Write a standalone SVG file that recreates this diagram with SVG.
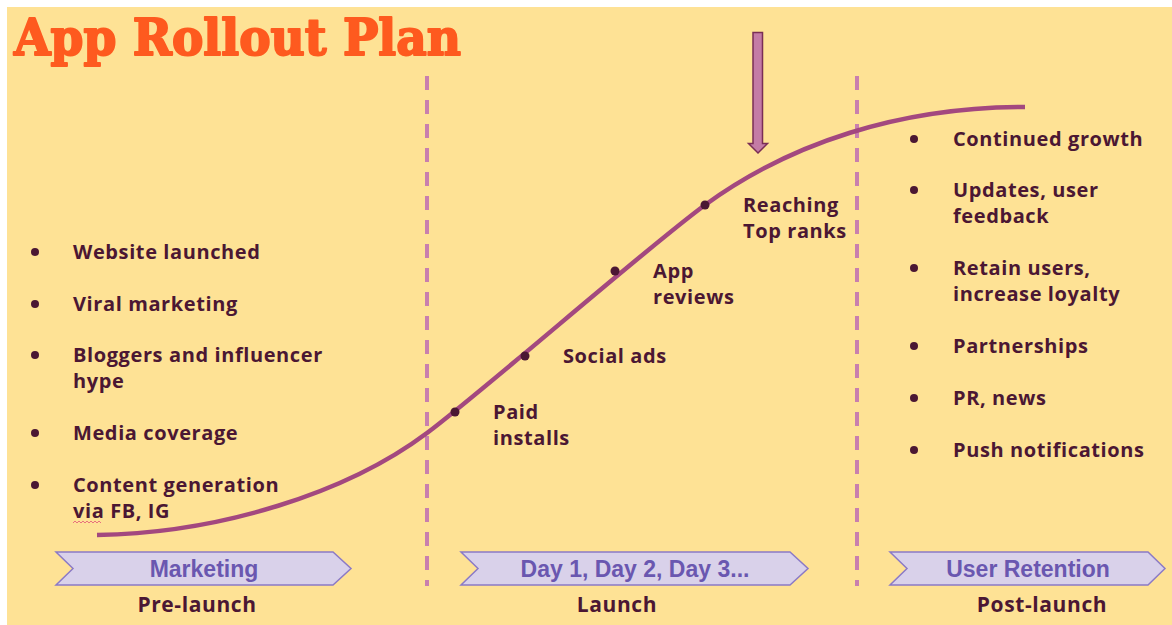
<svg xmlns="http://www.w3.org/2000/svg" width="1172" height="625" viewBox="0 0 1172 625">
  <style>
    .body { font-family: "Open Sans", "Liberation Sans", sans-serif; font-weight: 700; font-size: 20px; letter-spacing: 0.6px; fill: #4B1733; }
    .phase { font-family: "Open Sans", "Liberation Sans", sans-serif; font-weight: 700; font-size: 21px; letter-spacing: 0.6px; fill: #4B1733; text-anchor: middle; }
    .tag { fill: #D9D1EA; stroke: #8B7AC6; stroke-width: 1.5; }
    .tagtext { font-family: "Liberation Sans", Arial, sans-serif; font-weight: 700; font-size: 23px; fill: #6A57B0; text-anchor: middle; }
    .bullet { fill: #4B1733; }
    .divider { stroke: #C97FAE; stroke-width: 4; stroke-dasharray: 14 10; fill: none; }
  </style>

  <!-- page -->
  <rect x="0" y="0" width="1172" height="625" fill="#FFFFFF"/>
  <rect x="7" y="7" width="1165" height="618" fill="#FEE295"/>

  <!-- title -->
  <g id="title">
    <text x="14" y="55" font-family="'DejaVu Serif', 'Liberation Serif', serif" font-weight="900" font-size="50" fill="#FE5A1F" stroke="#FE5A1F" stroke-width="2" stroke-linejoin="round" textLength="447" lengthAdjust="spacingAndGlyphs">App Rollout Plan</text>
  </g>

  <!-- phase dividers -->
  <g id="dividers">
    <line class="divider" x1="427" y1="76" x2="427" y2="586"/>
    <line class="divider" x1="857" y1="76" x2="857" y2="586"/>
  </g>

  <!-- growth curve and pointer arrow -->
  <g id="connectors">
    <path d="M97,535 C220,533 347,493 427,433 C487,388 645,249 705,205 C790,143 900,107 1025,107" fill="none" stroke="#A3487F" stroke-width="4.5" stroke-linecap="butt"/>
    <path d="M753,32.5 H762.5 V143.5 H767.5 L758,153 L748.5,143.5 H753 Z" fill="#C47BA6" stroke="#7A2E55" stroke-width="1.5" stroke-linejoin="miter"/>
  </g>

  <!-- pre-launch items -->
  <g id="prelaunch-items">
    <circle class="bullet" cx="35" cy="252" r="4"/>
    <text class="body" x="73" y="259">Website launched</text>
    <circle class="bullet" cx="35" cy="304" r="4"/>
    <text class="body" x="73" y="311">Viral marketing</text>
    <circle class="bullet" cx="35" cy="355" r="4"/>
    <text class="body" x="73" y="362">Bloggers and influencer</text>
    <text class="body" x="73" y="388">hype</text>
    <circle class="bullet" cx="35" cy="433" r="4"/>
    <text class="body" x="73" y="440">Media coverage</text>
    <circle class="bullet" cx="35" cy="485" r="4"/>
    <text class="body" x="73" y="492">Content generation</text>
    <text class="body" x="73" y="518">via FB, IG</text>
    <path d="M73,523 l2,-2 l2,2 l2,-2 l2,2 l2,-2 l2,2 l2,-2 l2,2 l2,-2 l2,2 l2,-2 l2,2 l2,-2 l2,2" fill="none" stroke="#E8707E" stroke-width="1"/>
  </g>

  <!-- launch milestones on the curve -->
  <g id="launch-milestones">
    <circle class="bullet" cx="455" cy="412" r="4.5"/>
    <text class="body" x="493" y="419">Paid</text>
    <text class="body" x="493" y="445">installs</text>
    <circle class="bullet" cx="525" cy="356" r="4.5"/>
    <text class="body" x="563" y="363">Social ads</text>
    <circle class="bullet" cx="615" cy="271" r="4.5"/>
    <text class="body" x="653" y="278">App</text>
    <text class="body" x="653" y="304">reviews</text>
    <circle class="bullet" cx="705" cy="205" r="4.5"/>
    <text class="body" x="743" y="212">Reaching</text>
    <text class="body" x="743" y="238">Top ranks</text>
  </g>

  <!-- post-launch items -->
  <g id="postlaunch-items">
    <circle class="bullet" cx="914" cy="139" r="4"/>
    <text class="body" x="953" y="146">Continued growth</text>
    <circle class="bullet" cx="914" cy="190" r="4"/>
    <text class="body" x="953" y="197">Updates, user</text>
    <text class="body" x="953" y="223">feedback</text>
    <circle class="bullet" cx="914" cy="268" r="4"/>
    <text class="body" x="953" y="275">Retain users,</text>
    <text class="body" x="953" y="301">increase loyalty</text>
    <circle class="bullet" cx="914" cy="346" r="4"/>
    <text class="body" x="953" y="353">Partnerships</text>
    <circle class="bullet" cx="914" cy="398" r="4"/>
    <text class="body" x="953" y="405">PR, news</text>
    <circle class="bullet" cx="914" cy="450" r="4"/>
    <text class="body" x="953" y="457">Push notifications</text>
  </g>

  <!-- phase tags -->
  <g id="tag-marketing">
    <polygon class="tag" points="56,552 333,552 351,568.5 333,585 56,585 73,568.5"/>
    <text class="tagtext" x="204" y="577">Marketing</text>
  </g>
  <g id="tag-days">
    <polygon class="tag" points="461,552 790,552 808,568.5 790,585 461,585 478,568.5"/>
    <text class="tagtext" x="635" y="577">Day 1, Day 2, Day 3...</text>
  </g>
  <g id="tag-retention">
    <polygon class="tag" points="890,552 1148,552 1165,568.5 1148,585 890,585 907,568.5"/>
    <text class="tagtext" x="1028" y="577">User Retention</text>
  </g>

  <!-- phase names -->
  <g id="phase-prelaunch">
    <text class="phase" x="197" y="612">Pre-launch</text>
  </g>
  <g id="phase-launch">
    <text class="phase" x="617" y="612">Launch</text>
  </g>
  <g id="phase-postlaunch">
    <text class="phase" x="1042" y="612">Post-launch</text>
  </g>
</svg>
